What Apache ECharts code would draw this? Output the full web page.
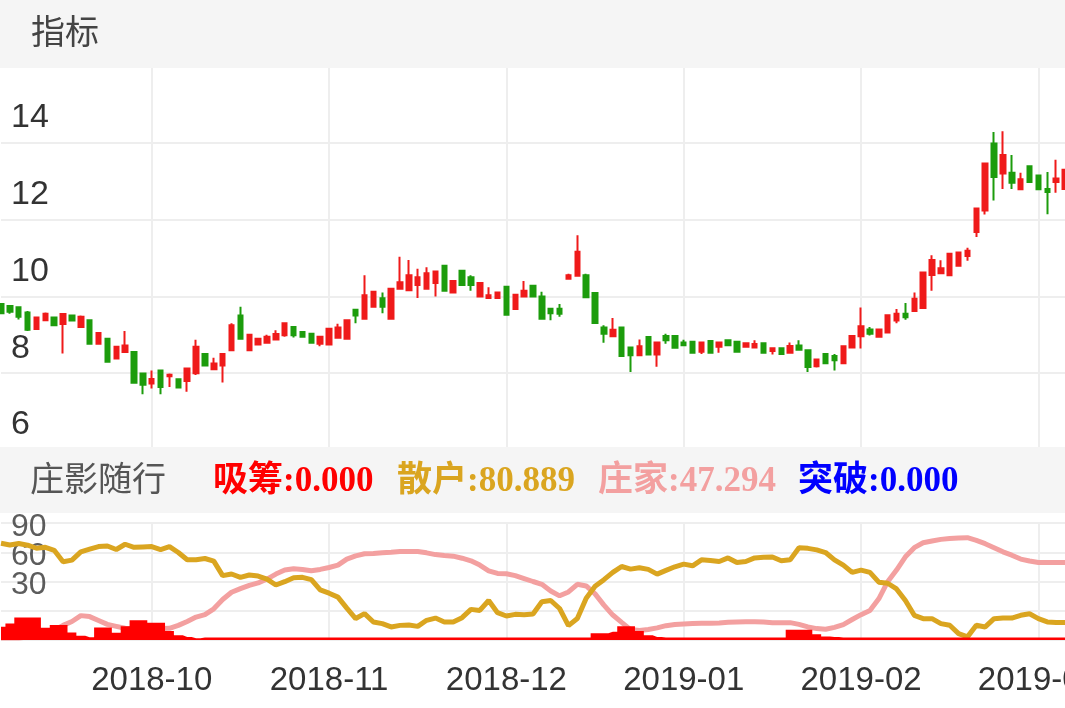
<!DOCTYPE html>
<html>
<head>
<meta charset="utf-8">
<script src="https://cdn.jsdelivr.net/npm/echarts@6/dist/echarts.min.js"></script>
<style>
html,body{margin:0;padding:0;background:#fff;}
#main{width:1065px;height:708px;}
</style>
</head>
<body>
<div id="main"></div>
<script>
// K线 [开, 收, 低, 高]
var opens = [8.80,8.75,8.72,8.58,8.15,8.38,8.45,8.28,8.50,8.20, 8.38,7.77,7.90,7.38,7.55,7.55,6.99,6.73,7.07,6.92,
  6.84,6.80,7.00,7.50,7.10,7.20,7.60,8.50,7.60,7.75, 7.79,7.88,7.99,8.20,8.07,8.03,7.77,7.75,7.92,7.90,
  8.65,8.42,8.73,8.95,8.42,9.20,9.16,9.30,9.20,9.35, 9.80,9.10,9.67,9.50,9.00,8.96,8.96,9.25,8.67,9.00,
  9.28,9.00,8.68,8.68,9.46,9.54,9.55,9.09,8.19,7.96, 8.19,7.67,7.47,7.94,7.49,7.97,7.97,7.80,7.82,7.56,
  7.84,7.69,7.86,7.82,7.69,7.67,7.78,7.58,7.65,7.53, 7.72,7.60,7.18,7.50,7.45,7.26,7.67,7.96,8.14,7.95,
  8.06,8.37,8.55,8.62,8.70,9.56,9.60,9.55,9.80,10.05, 10.68,11.24,12.98,12.20,12.22,11.79,12.39,12.15,11.80,11.98,
  11.80];
var closes = [8.56,8.60,8.47,8.13,8.45,8.55,8.25,8.54,8.37,8.47, 7.77,8.05,7.30,7.69,7.72,6.75,6.70,6.85,6.64,6.96,
  6.63,7.12,7.69,7.20,7.25,7.50,8.25,7.90,8.00,7.90, 7.95,8.02,8.30,7.99,7.95,7.79,7.95,8.16,8.19,8.38,
  8.50,9.03,9.12,8.73,9.20,9.37,9.55,9.50,9.60,9.65, 9.15,9.40,9.30,9.30,9.35,9.03,9.10,8.52,9.04,9.15,
  9.00,8.42,8.56,8.55,9.55,10.16,8.98,8.31,8.03,8.13, 7.45,7.47,7.70,7.49,7.80,7.86,7.66,7.73,7.53,7.80,
  7.53,7.80,7.73,7.56,7.78,7.76,7.53,7.65,7.50,7.71, 7.61,7.16,7.36,7.26,7.34,7.70,7.97,8.22,8.03,8.14,
  8.51,8.55,8.46,8.94,9.62,9.95,9.73,10.11,10.14,10.19, 11.29,12.46,12.11,12.68,11.96,12.05,11.98,11.79,11.72,12.07,
  12.30];
var lows = [8.56,8.55,8.40,8.10,8.15,8.38,8.25,7.51,8.37,8.20, 7.77,7.77,7.30,7.38,7.55,6.75,6.45,6.60,6.45,6.64,
  6.63,6.52,6.95,7.20,7.10,6.76,7.60,7.90,7.60,7.75, 7.78,7.86,7.95,7.93,7.95,7.79,7.70,7.72,7.92,7.90,
  8.30,8.42,8.73,8.56,8.42,9.20,9.16,8.96,9.20,9.00, 9.15,9.10,9.30,9.15,9.00,8.96,8.96,8.52,8.67,9.00,
  9.00,8.42,8.38,8.47,9.46,9.54,8.98,8.31,7.79,7.96, 7.45,7.03,7.47,7.49,7.17,7.77,7.66,7.70,7.53,7.50,
  7.53,7.53,7.73,7.56,7.69,7.67,7.53,7.49,7.50,7.53, 7.61,7.03,7.15,7.26,7.07,7.26,7.67,7.64,7.98,7.95,
  8.06,8.30,8.39,8.62,8.70,9.15,9.60,9.55,9.80,9.93, 10.55,11.13,11.50,11.80,11.80,11.79,11.98,11.79,11.14,11.70,
  11.80];
var highs = [8.82,8.76,8.72,8.62,8.47,8.58,8.45,8.54,8.52,8.50, 8.38,8.05,7.90,7.69,8.10,7.55,7.00,7.07,7.07,6.99,
  6.84,7.12,7.87,7.50,7.40,7.50,8.30,8.73,8.00,7.90, 8.00,8.12,8.30,8.21,8.07,8.03,7.95,8.16,8.29,8.38,
  8.68,9.55,9.12,9.10,9.20,10.03,9.95,9.72,9.76,9.65, 9.80,9.40,9.67,9.55,9.35,9.24,9.10,9.25,9.04,9.40,
  9.28,9.12,8.68,8.80,9.59,10.59,9.59,9.09,8.25,8.44, 8.19,7.67,7.88,7.94,7.80,8.03,7.97,7.87,7.82,7.80,
  7.84,7.80,7.86,7.82,7.78,7.86,7.78,7.65,7.65,7.80, 7.86,7.60,7.36,7.50,7.50,7.70,7.97,8.71,8.20,8.14,
  8.51,8.67,8.83,9.10,9.62,10.07,9.94,10.11,10.14,10.27, 11.29,12.49,13.28,13.30,12.68,12.22,12.39,12.15,12.24,12.56,
  12.30];

// 庄影随行
var sanhu = [69.2,67.5,68.9,67.2,64.1,65.1,62,50.2,51.9,60.4, 63.1,65.8,66.4,62.8,68.2,65.1,65.5,65.8,62.8,65.8,
  59.7,52.3,52.3,53.6,50.9,36,37.7,34.3,36.7,35.6, 32.5,26.4,29.8,33.9,34.3,31.9,21.4,18,14,2.7,
  -8,-3,-11.5,-13.2,-16.6,-15,-14.6,-16,-9.8,-7.5, -11.5,-11.5,-7.1,1.4,0.3,10.5,-2,-5.4,-3.7,
  -4,-3.4,9.2,10.5,2.3,-15.3,-8,12.9,25.1,31.9, 39.3,45.4,42.7,44.1,42.4,37.6,41.4,45.1,47.8,46.1,
  52.2,51.5,50.5,54.2,49.5,50.5,54.2,54.9,55.2,51.2, 52.2,64.7,64,62.4,59.7,52.2,46.8,39.3,41.7,39.3,
  29.3,28.2,22.4,10.5,-4.7,-8.1,-8.1,-13.2,-14.9,-23.4, -26.8,-14.9,-16.6,-8.1,-7.5,-7.5,-4.7,-3.1,-8.1,-11.5,
  -12,-12];
var zhuangjia = [-28,-28,-28,-27,-26,-24,-20,-15,-11,-5, -6,-10,-14,-16,-18,-18.3,-18.3,-18.3,-18.3,-18,
  -15,-11,-6.5,-4,2,11.5,19,22.7,26,28.5, 32.5,37.6,41.7,43,42.4,41,42.4,44.4,46.8,53,
  56.3,58.4,58.7,59.4,60,60.7,60.7,60.7,59.4,57.6, 56.6,56,53.9,51.2,46.8,41,38.3,38,36,
  33,30,27.1,20.3,15.3,19.3,27.1,25.4,17.3,5.8, -4.4,-11.9,-19.3,-20.3,-19.3,-17.6,-15.3,-14.2,-13.6,-13.2,
  -12.9,-12.9,-12.5,-11.9,-11.5,-11.2,-11.2,-11.5,-12.2,-12.2, -12.2,-14,-16.6,-18.3,-19,-17,-14.2,-9,-4,0.3,
  12.2,29.8,41.7,55.3,64.7,69.8,71.5,73.2,74.2,74.6, 74.9,72.2,68.8,64.7,60.4,57,53,51,49.5,49.5,
  49.5,49.5];
var xichou = [13.6,17,23,23,23,12.5,15.3,15.3,7.8,4.4, 2.7,12.9,12.9,7.5,14.2,20.3,20.3,17.6,17.6,9.2,
  4.8,3,1.8,2.5,2.5,2.5,2.5,2.5,2.5,2.5, 2.5,2.5,2.5,2.5,2.5,2.5,2.5,2.5,2.5,2.5,
  2.5,2.5,2.5,2.5,2.5,2.5,2.5,2.5,2.5,2.5, 2.5,2.5,2.5,2.5,2.5,2.5,2.5,2.5,2.5,2.5,
  2.5,2.5,2.5,2.5,2.5,2.5,2.5,6.8,6.8,8.5, 14.2,14.2,9.2,4.8,3,2.5,2.5,2.5,2.5,2.5,
  2.5,2.5,2.5,2.5,2.5,2.5,2.5,2.5,2.5,10.5, 10.5,10.5,5.8,3.7,3,2.5,2.5,2.5,2.5,2.5,
  2.5,2.5,2.5,2.5,2.5,2.5,2.5,2.5,2.5,2.5, 2.5,2.5,2.5,2.5,2.5,2.5,2.5,2.5,2.5,2.5,
  2.5];
var monthLabels = ['2018-10','2018-11','2018-12','2019-01','2019-02','2019-03'];
var zyLabels = ['30','60','90'];
var legendTexts = ['吸筹:0.000','散户:80.889','庄家:47.294','突破:0.000'];

var categories = [];
for (var i = 0; i < opens.length; i++) categories.push(String(i));
var kdata = [];
for (var i = 0; i < opens.length; i++) kdata.push([opens[i], closes[i], lows[i], highs[i]]);

function isMonthTick(index){ return index % 20 === 17; }

var gridColor = '#eeeeee';
var numFont = 'Helvetica, Arial, sans-serif';
var legendFont = 'Liberation Serif, Noto Sans CJK SC';
var myChart = echarts.init(document.getElementById('main'));
var option = {
  animation: false,
  backgroundColor: '#fff',
  grid: [
    { left: 1, right: 0, top: 66, height: 384, outerBoundsMode: 'none', containLabel: false },
    { left: 1, right: 0, top: 523, height: 117, outerBoundsMode: 'none', containLabel: false }
  ],
  xAxis: [
    { type: 'category', gridIndex: 0, data: categories, boundaryGap: false,
      axisLine: {show: false}, axisTick: {show: false}, axisLabel: {show: false},
      splitLine: {show: true, interval: isMonthTick, lineStyle: {color: gridColor, width: 2}} },
    { type: 'category', gridIndex: 1, data: categories, boundaryGap: false,
      axisLine: {show: false}, axisTick: {show: false},
      axisLabel: {interval: isMonthTick, margin: 24, fontSize: 33, color: '#333', fontFamily: numFont,
        hideOverlap: false,
        formatter: function(v, idx){ return monthLabels[(idx - 17) / 20] || ''; }},
      splitLine: {show: true, interval: isMonthTick, lineStyle: {color: gridColor, width: 2}} }
  ],
  yAxis: [
    { type: 'value', gridIndex: 0, min: 5, max: 15, interval: 2,
      axisLine: {show: false}, axisTick: {show: false},
      axisLabel: {inside: true, margin: 10, fontSize: 34, color: '#333', lineHeight: 34,
        verticalAlign: 'bottom', padding: [0, 0, 8, 0], fontFamily: numFont,
        formatter: function(v){ return v >= 15 ? '' : String(v + 1); }},
      splitLine: {lineStyle: {color: gridColor, width: 2}} },
    { type: 'value', gridIndex: 1, min: -30, max: 90, interval: 30,
      axisLine: {show: false}, axisTick: {show: false}, axisLabel: {show: false},
      splitLine: {lineStyle: {color: gridColor, width: 2}} },
    { type: 'value', gridIndex: 1, min: 0, max: 120, show: false, splitLine: {show: false} }
  ],
  series: [
    // 刻度文字 30/60/90 挨得很近，轴标签会被隐藏，改用不可见散点的标签
    { type: 'scatter', xAxisIndex: 1, yAxisIndex: 1, symbolSize: 0, silent: true, z: 1,
      data: zyLabels.map(function(t){ return {value: [0, Number(t)], name: t}; }),
      label: {show: true, position: 'right', distance: 10, offset: [0, 4], formatter: '{b}',
        fontSize: 32, color: '#333', fontFamily: numFont} },
    { type: 'candlestick', xAxisIndex: 0, yAxisIndex: 0, data: kdata, barWidth: 5,
      itemStyle: {color: '#ef1a1a', color0: '#1c9c0c', borderColor: '#ef1a1a', borderColor0: '#1c9c0c', borderWidth: 2} },
    { type: 'line', xAxisIndex: 1, yAxisIndex: 1, data: sanhu, showSymbol: false,
      lineStyle: {color: '#daa520', width: 5}, z: 3 },
    { type: 'line', xAxisIndex: 1, yAxisIndex: 1, data: zhuangjia, showSymbol: false,
      lineStyle: {color: '#f3a0a0', width: 5}, z: 2 },
    // 吸筹柱：用阶梯面积画，保持与上方K线同一刻度
    { type: 'line', xAxisIndex: 1, yAxisIndex: 2, data: xichou, step: 'middle', showSymbol: false,
      lineStyle: {width: 0}, areaStyle: {color: '#ff0000', opacity: 1}, z: 4 }
  ],
  graphic: [
    { type: 'rect', left: 0, top: 0, z: 100, shape: {width: 1065, height: 68}, style: {fill: '#f5f5f5'} },
    { type: 'text', left: 31, top: 14, z: 101, style: {text: '指标', fontSize: 34, fill: '#444', fontFamily: 'Noto Sans CJK SC'} },
    { type: 'rect', left: 0, top: 447, z: 100, shape: {width: 1065, height: 66}, style: {fill: '#f5f5f5'} },
    { type: 'text', left: 30, top: 461, z: 101, style: {text: '庄影随行', fontSize: 34, fill: '#555', fontFamily: 'Noto Sans CJK SC'} },
    { type: 'text', left: 213, top: 464, z: 101, style: {text: legendTexts[0], fontSize: 35, fontWeight: 'bold', fill: '#ff0000', fontFamily: legendFont} },
    { type: 'text', left: 397, top: 464, z: 101, style: {text: legendTexts[1], fontSize: 35, fontWeight: 'bold', fill: '#daa520', fontFamily: legendFont} },
    { type: 'text', left: 598, top: 464, z: 101, style: {text: legendTexts[2], fontSize: 35, fontWeight: 'bold', fill: '#f3a0a0', fontFamily: legendFont} },
    { type: 'text', left: 798, top: 464, z: 101, style: {text: legendTexts[3], fontSize: 35, fontWeight: 'bold', fill: '#0000ff', fontFamily: legendFont} }
  ]
};
myChart.setOption(option);
</script>
</body>
</html>
